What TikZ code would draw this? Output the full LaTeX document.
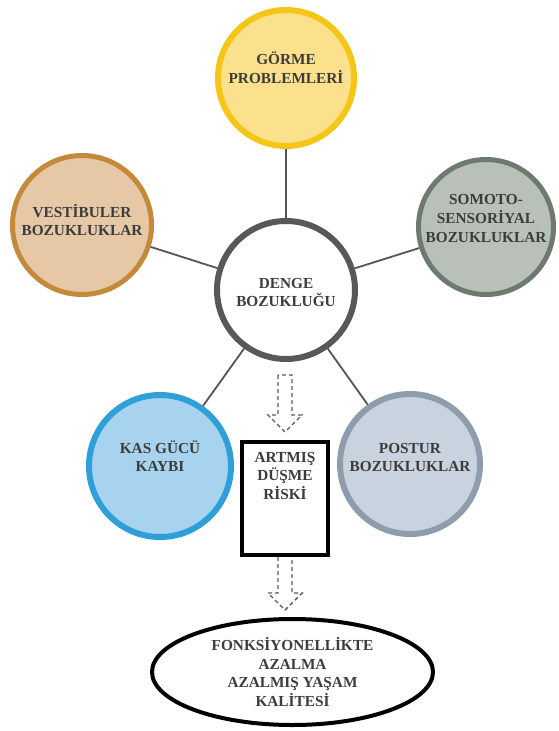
\documentclass[tikz,border=0pt]{standalone}
\usepackage{fontspec}
\setmainfont{Liberation Serif}
\usetikzlibrary{shapes.geometric}

\definecolor{txtgray}{HTML}{3C3C3C}
\definecolor{spokegray}{HTML}{555555}
\definecolor{arrowgray}{HTML}{5A5A5A}
\definecolor{gormeline}{HTML}{F5C518}
\definecolor{gormefill}{HTML}{FCE18C}
\definecolor{vestline}{HTML}{C4893A}
\definecolor{vestfill}{HTML}{E6C8A6}
\definecolor{somline}{HTML}{6D7A70}
\definecolor{somfill}{HTML}{B9C0B8}
\definecolor{dengeline}{HTML}{58585A}
\definecolor{kasline}{HTML}{2E9FD9}
\definecolor{kasfill}{HTML}{A7D3EF}
\definecolor{posline}{HTML}{8E9DAC}
\definecolor{posfill}{HTML}{C9D3DF}

\begin{document}
\begin{tikzpicture}[x=1pt,y=1pt,
  bubble/.style={circle,line width=6pt,minimum size=#1,inner sep=0pt},
  lbl/.style={align=center,font=\fontsize{15.3}{18.6}\selectfont\bfseries,text=txtgray,inner sep=0pt},
  spoke/.style={line width=1.8pt,draw=spokegray},
  dasharrow/.style={dash pattern=on 4pt off 3pt,line width=1.4pt,draw=arrowgray}]
\useasboundingbox (0,0) rectangle (558,-731);
% center
\node[bubble=138,draw=dengeline,fill=white] (denge) at (286,-290) {};
\node[lbl] (denge-t) at ([yshift=-2.5]denge.center) {DENGE\\BOZUKLUĞU};
% outer circles
\node[bubble=136,draw=gormeline,fill=gormefill] (gorme) at (286,-78) {};
\node[lbl] (gorme-t) at ([yshift=10.5]gorme.center) {GÖRME\\PROBLEMLERİ};
\node[bubble=139,line width=5pt,draw=vestline,fill=vestfill] (vest) at (82,-225) {};
\node[lbl] (vest-t) at ([yshift=5]vest.center) {VESTİBULER\\BOZUKLUKLAR};
\node[bubble=135,line width=5pt,draw=somline,fill=somfill] (somoto) at (486,-227) {};
\node[lbl] (somoto-t) at ([yshift=8.5]somoto.center) {SOMOTO-\\SENSORİYAL\\BOZUKLUKLAR};
\node[bubble=142,draw=kasline,fill=kasfill] (kas) at (160,-466) {};
\node[lbl] (kas-t) at ([yshift=10]kas.center) {KAS GÜCÜ\\KAYBI};
\node[bubble=140,draw=posline,fill=posfill] (postur) at (410,-464) {};
\node[lbl] (postur-t) at ([yshift=6.5]postur.center) {POSTUR\\BOZUKLUKLAR};
% spokes
\draw[spoke] (denge) -- (gorme);
\draw[spoke] (denge) -- (vest);
\draw[spoke] (denge) -- (somoto);
\draw[spoke] (denge) -- (kas);
\draw[spoke] (denge) -- (postur);
% risk box
\node[draw,line width=4pt,minimum width=86,minimum height=113,inner sep=0pt] (risk) at (285,-498.5) {};
\node[lbl,anchor=north] (risk-t) at ([yshift=-12]risk.north) {ARTMIŞ\\DÜŞME\\RİSKİ};
% result
\node[ellipse,draw=black,line width=4pt,minimum width=281,minimum height=106,lbl] (kalite) at (292.5,-672) {FONKSİYONELLİKTE\\AZALMA\\AZALMIŞ YAŞAM\\KALİTESİ};
% dashed arrows
\coordinate (a1) at (285,-375);
\draw[dasharrow] ([xshift=-7]a1) -- ++(0,-40) -- ++(-10,0) -- ++(17,-17) -- ++(17,17) -- ++(-10,0) -- ++(0,40) -- cycle;
\coordinate (a2) at (risk.south);
\draw[dasharrow] ([xshift=-7]a2) -- ++(0,-36) -- ++(-10,0) -- ++(17,-17) -- ++(17,17) -- ++(-10,0) -- ++(0,36);
\end{tikzpicture}
\end{document}
